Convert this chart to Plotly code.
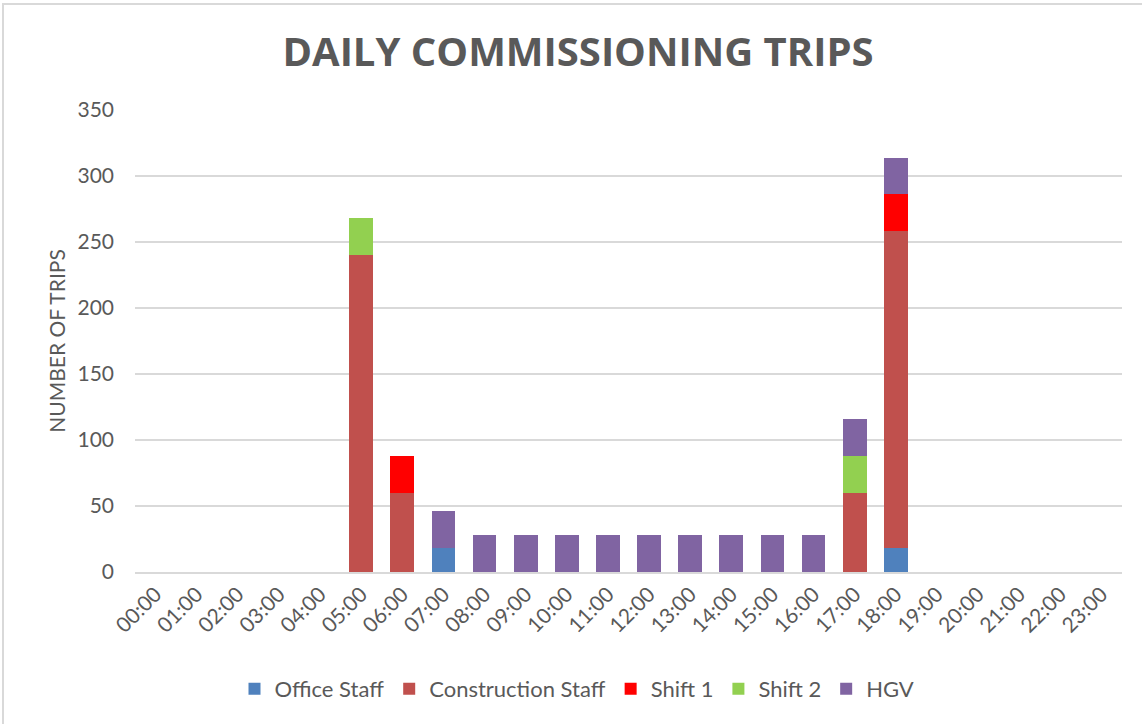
import plotly.graph_objects as go

hours = [f"{h:02d}:00" for h in range(24)]
office_staff =       [0, 0, 0, 0, 0, 0, 0, 18, 0, 0, 0, 0, 0, 0, 0, 0, 0, 0, 18, 0, 0, 0, 0, 0]
construction_staff = [0, 0, 0, 0, 0, 240, 60, 0, 0, 0, 0, 0, 0, 0, 0, 0, 0, 60, 240, 0, 0, 0, 0, 0]
shift_1 =            [0, 0, 0, 0, 0, 0, 28, 0, 0, 0, 0, 0, 0, 0, 0, 0, 0, 0, 28, 0, 0, 0, 0, 0]
shift_2 =            [0, 0, 0, 0, 0, 28, 0, 0, 0, 0, 0, 0, 0, 0, 0, 0, 0, 28, 0, 0, 0, 0, 0, 0]
hgv =                [0, 0, 0, 0, 0, 0, 0, 28, 28, 28, 28, 28, 28, 28, 28, 28, 28, 28, 28, 0, 0, 0, 0, 0]

series = [
    ("Office Staff", office_staff, "#4F81BD"),
    ("Construction Staff", construction_staff, "#C0504D"),
    ("Shift 1", shift_1, "#FF0000"),
    ("Shift 2", shift_2, "#92D050"),
    ("HGV", hgv, "#8064A2"),
]

fig = go.Figure()
for name, vals, col in series:
    fig.add_trace(go.Bar(x=hours, y=vals, name=name, marker=dict(color=col, line=dict(width=0))))

W, H = 1142, 724
L, R, T = 135, 20, 110
B = H - 572
pw = W - L - R
ph = H - T - B

fig.update_layout(
    width=W, height=H,
    barmode="stack",
    bargap=0.42,
    plot_bgcolor="white",
    paper_bgcolor="white",
    margin=dict(l=L, r=R, t=T, b=B),
    font=dict(family="Lato, 'Open Sans', sans-serif", color="#595959"),
    title=dict(text="<b>DAILY COMMISSIONING TRIPS</b>", x=578 / W, xanchor="center", xref="container",
               y=1 - 52 / H, yanchor="middle",
               font=dict(size=40, color="#595959", family="'Open Sans', Lato, sans-serif")),
    xaxis=dict(tickangle=-45, tickfont=dict(size=21, color="#595959"), showgrid=False,
               showline=True, linecolor="#D9D9D9", linewidth=1.5, ticks=""),
    yaxis=dict(range=[0, 350], dtick=50, showgrid=True, gridcolor="#D9D9D9", gridwidth=1.5,
               zeroline=False, tickfont=dict(size=21, color="#595959"), ticks="", ticklen=0,
               ticklabelstandoff=20,
               title=dict(text="NUMBER OF TRIPS", font=dict(size=21, color="#595959"), standoff=6)),
    legend=dict(orientation="h", x=(577 - L) / pw, xanchor="center",
                y=-(689 - 572) / ph, yanchor="middle",
                font=dict(size=22, color="#595959"), itemwidth=30, traceorder="normal"),
    shapes=[dict(type="rect", xref="paper", yref="paper",
                 x0=(3 - L) / pw, x1=(W + 5 - L) / pw,
                 y0=-(B + 5) / ph, y1=1 + (T - 4) / ph,
                 line=dict(color="#D9D9D9", width=2), fillcolor="rgba(0,0,0,0)", layer="below")],
)

fig.write_html("out.html", config={"displayModeBar": False},
               post_script="document.body.style.margin='0';")
